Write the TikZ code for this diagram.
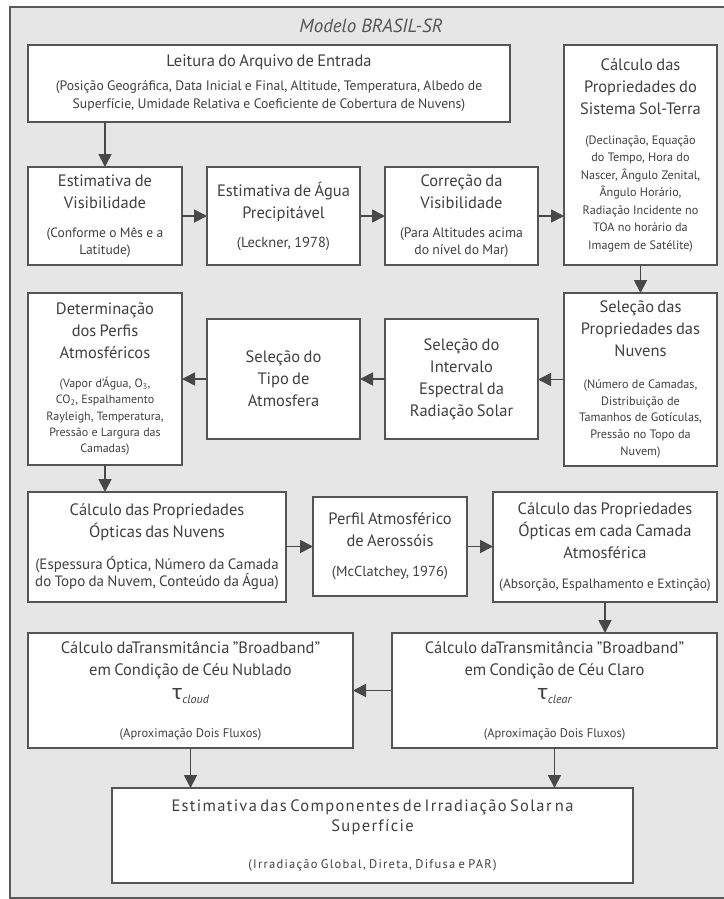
\documentclass[tikz,border=0pt]{standalone}
\usepackage{fontspec}
\setmainfont{PT Sans}
\newfontfamily\grk{Lato}
\usetikzlibrary{arrows.meta}
\definecolor{bgc}{HTML}{E6E6E6}
\definecolor{framec}{HTML}{5A5A5A}
\definecolor{linec}{HTML}{555555}
\definecolor{txtc}{HTML}{404040}
\definecolor{titc}{HTML}{555555}
\definecolor{arrc}{HTML}{484848}
\newcommand{\mf}{\fontsize{16.5}{22}\selectfont}
\newcommand{\subf}{\fontsize{12.5}{17}\selectfont}
\newcommand{\subsz}[2]{\fontsize{#1}{#2}\selectfont}
\newcommand{\taul}[1]{{\fontsize{22}{24}\selectfont{\grk τ}\raisebox{-4pt}{\fontsize{12}{12}\selectfont\itshape #1}\par}}
\begin{document}
\begin{tikzpicture}[x=1pt,y=-1pt,
  box/.style={draw=linec, line width=1.8pt, fill=white, inner sep=0pt, outer sep=0pt, align=center, text=txtc},
  arr/.style={draw=arrc, line width=1.8pt, -{Triangle[length=13pt,width=13pt]}}]
\useasboundingbox (0,0) rectangle (723,899);
\fill[white] (0,0) rectangle (723,899);
\draw[draw=framec, fill=bgc, line width=2pt] (10,7) rectangle (740,898);
\node[font=\fontsize{19}{22}\selectfont\itshape, text=titc, inner sep=0pt] (title) at (371,26) {Modelo BRASIL-SR};

\node[box, minimum width=482pt, minimum height=77pt, text width=478pt] (leitura) at (269,83.5)
 {\mf Leitura do Arquivo de Entrada\par\vspace{5pt}\subsz{13.7}{18.5}(Posição Geográfica, Data Inicial e Final, Altitude, Temperatura, Albedo de\\Superfície, Umidade Relativa e Coeficiente de Cobertura de Nuvens)\par};

\node[box, minimum width=153pt, minimum height=220pt, text width=150pt] (solterra) at (640.5,155)
 {\mf Cálculo das\\Propriedades do\\Sistema Sol-Terra\par\vspace{12.5pt}\subsz{12.2}{17.5}(Declinação, Equação\\do Tempo, Hora do\\Nascer, Ângulo Zenital,\\Ângulo Horário,\\Radiação Incidente no\\TOA no horário da\\Imagem de Satélite)\par};

\node[box, minimum width=154pt, minimum height=98pt, text width=150pt] (estvis) at (105,216)
 {\mf Estimativa de\\Visibilidade\par\vspace{12pt}\subsz{13.5}{17}(Conforme o Mês e a\\Latitude)\par};

\node[box, minimum width=153pt, minimum height=98pt, text width=150pt] (agua) at (283.5,216)
 {\mf Estimativa de Água\\Precipitável\par\vspace{12pt}\subsz{14.5}{17}(Leckner, 1978)\par};

\node[box, minimum width=153pt, minimum height=98pt, text width=150pt] (correcao) at (461.5,216)
 {\mf Correção da\\Visibilidade\par\vspace{12pt}\subsz{13.7}{17}(Para Altitudes acima\\do nível do Mar)\par};

\node[box, minimum width=154pt, minimum height=172pt, text width=150pt] (determ) at (105,379)
 {\mf Determinação\\dos Perfis\\Atmosféricos\par\vspace{13pt}\subsz{12}{16.3}(Vapor d'Água, O\textsubscript{3},\\CO\textsubscript{2}, Espalhamento\\Rayleigh, Temperatura,\\Pressão e Largura das\\Camadas)\par};

\node[box, minimum width=153pt, minimum height=120pt, text width=150pt] (tipo) at (283.5,379)
 {\mf Seleção do\\Tipo de\\Atmosfera\par};

\node[box, minimum width=153pt, minimum height=120pt, text width=150pt] (intervalo) at (461.5,379)
 {\mf Seleção do\\Intervalo\\Espectral da\\Radiação Solar\par};

\node[box, minimum width=153pt, minimum height=173pt, text width=150pt] (selnuv) at (640.5,379.5)
 {\mf Seleção das\\Propriedades das\\Nuvens\par\vspace{15pt}\subsz{12.2}{16.7}(Número de Camadas,\\Distribuição de\\Tamanhos de Gotículas,\\Pressão no Topo da\\Nuvem)\par};

\node[box, minimum width=258pt, minimum height=110pt, text width=254pt] (calcnuv) at (157,547)
 {\mf Cálculo das Propriedades\\Ópticas das Nuvens\par\vspace{14pt}\subsz{15}{16}(Espessura Óptica, Número da Camada\\do Topo da Nuvem, Conteúdo da Água)\par};

\node[box, minimum width=154pt, minimum height=99pt, text width=150pt] (perfil) at (390,546.5)
 {\mf Perfil Atmosférico\\de Aerossóis\par\vspace{13pt}\subsz{14.5}{17}(McClatchey, 1976)\par};

\node[box, minimum width=224pt, minimum height=110pt, text width=220pt] (camada) at (605,547)
 {\mf Cálculo das Propriedades\\Ópticas em cada Camada\\Atmosférica\par\vspace{13pt}\subsz{13.5}{17}(Absorção, Espalhamento e Extinção)\par};

\node[box, minimum width=325pt, minimum height=115pt, text width=320pt] (cloud) at (190.5,690.5)
 {\mf Cálculo daTransmitância "Broadband"\\em Condição de Céu Nublado\par\taul{cloud}\vspace{21pt}\subf (Aproximação Dois Fluxos)\par};

\node[box, minimum width=325pt, minimum height=115pt, text width=320pt] (clear) at (554.5,690.5)
 {\mf Cálculo daTransmitância "Broadband"\\em Condição de Céu Claro\par\taul{clear}\vspace{21pt}\subf (Aproximação Dois Fluxos)\par};

\node[box, minimum width=521pt, minimum height=95pt, text width=517pt] (final) at (372.5,835.5)
 {\fontsize{16.5}{20}\selectfont\addfontfeatures{LetterSpace=8}Estimativa das Componentes de Irradiação Solar na\\Superfície\par\vspace{20pt}\subf\addfontfeatures{LetterSpace=10}(Irradiação Global, Direta, Difusa e PAR)\par};

\draw[arr] (estvis.north |- leitura.south) -- (estvis.north);
\draw[arr] (estvis.east) -- (agua.west);
\draw[arr] (agua.east) -- (correcao.west);
\draw[arr] (correcao.east) -- (correcao.east -| solterra.west);
\draw[arr] (solterra.south) -- (selnuv.north);
\draw[arr] (selnuv.west) -- (selnuv.west -| intervalo.east);
\draw[arr] (intervalo.west) -- (tipo.east);
\draw[arr] (tipo.west) -- (tipo.west -| determ.east);
\draw[arr] (determ.south) -- (calcnuv.north -| determ.south);
\draw[arr] (calcnuv.east |- perfil.west) -- (perfil.west);
\draw[arr] (perfil.east) -- (perfil.east -| camada.west);
\draw[arr] (camada.south) -- (camada.south |- clear.north);
\draw[arr] (clear.west) -- (cloud.east);
\draw[arr] (cloud.south) -- (cloud.south |- final.north);
\draw[arr] (clear.south) -- (clear.south |- final.north);
\end{tikzpicture}
\end{document}
